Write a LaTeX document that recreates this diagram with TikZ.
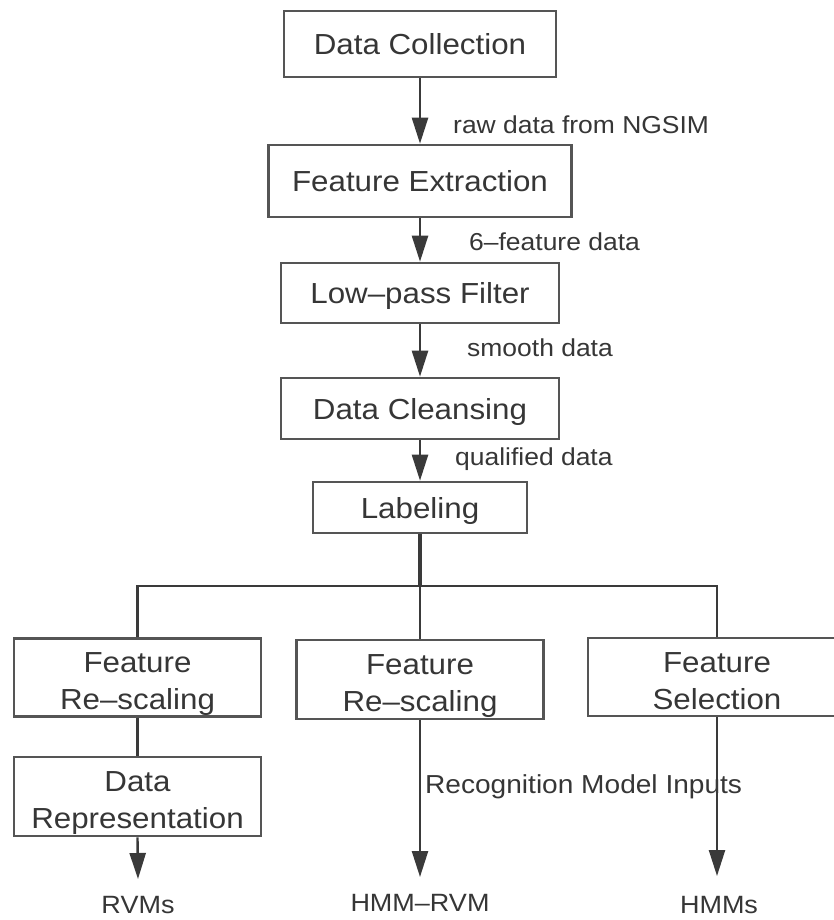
\documentclass[tikz,border=0pt]{standalone}
\usepackage{fontspec}
\setmainfont{Liberation Sans}[FakeStretch=1.08]
\usetikzlibrary{arrows.meta}
\definecolor{lncol}{HTML}{3A3A3A}
\definecolor{bxcol}{HTML}{555555}
\definecolor{txcol}{HTML}{363636}
\newcommand{\topst}{\rule{0pt}{34pt}}
\newcommand{\botst}{\rule[-7pt]{0pt}{7pt}}
\begin{document}
\begin{tikzpicture}[x=1pt,y=-1pt,
 box/.style={draw=bxcol, line width=2.6pt, rectangle, inner sep=0pt, align=center, text=txcol, font=\fontsize{29}{37}\selectfont},
 single/.style={text height=21pt, text depth=0pt},
 lab/.style={text=txcol, font=\fontsize{24.5}{30}\selectfont, inner sep=0pt, text height=17.5pt, text depth=0pt},
 arr/.style={draw=lncol, line width=2.4pt, -{Triangle[length=26pt,width=16pt]}},
 conn/.style={draw=lncol, line width=2.4pt},
]
\useasboundingbox (0,0) rectangle (834,920);
\clip (0,0) rectangle (834,920);
% top chain
\node[box,single,minimum width=272pt,minimum height=66pt] (dc) at (420,44) {Data Collection};
\node[box,single,minimum width=303pt,minimum height=72pt] (fe) at (420,181) {Feature Extraction};
\node[box,single,minimum width=278pt,minimum height=60pt] (lp) at (420,293) {Low–pass Filter};
\node[box,single,minimum width=278pt,minimum height=61pt] (cl) at (420,408.5) {Data Cleansing};
\node[box,single,minimum width=214pt,minimum height=51pt] (lb) at (420,507.5) {Labeling};
% bottom row
\node[box,minimum width=247pt,minimum height=77pt] (fr1) at (137.5,677.5) {\topst Feature\\Re–scaling\botst};
\node[box,minimum width=247pt,minimum height=79pt] (fr2) at (420,679.5) {\topst Feature\\Re–scaling\botst};
\node[box,minimum width=258pt,minimum height=76pt] (fs) at (717,677) {\topst Feature\\Selection\botst};
\node[box,minimum width=247pt,minimum height=79pt] (dr) at (137.5,796.5) {\topst Data\\Representation\botst};
% outputs
\node[lab,font=\fontsize{25}{30}\selectfont] (o1) at (138,905) {RVMs};
\node[lab,font=\fontsize{25}{30}\selectfont] (o2) at (420,903) {HMM–RVM};
\node[lab,font=\fontsize{25}{30}\selectfont] (o3) at (719,905) {HMMs};
\coordinate (t1) at (138,879);
\coordinate (t2) at (420,877);
\coordinate (t3) at (717,876);
% edge labels
\node[lab,anchor=west] (l1) at (453,125) {raw data from NGSIM};
\node[lab,anchor=west] (l2) at (469,242) {6–feature data};
\node[lab,anchor=west] (l3) at (467,348) {smooth data};
\node[lab,anchor=west] (l4) at (455,457) {qualified data};
\node[lab,anchor=west,font=\fontsize{26}{30}\selectfont] (l5) at (425,785) {Recognition Model Inputs};
% connectors
\draw[arr] (dc.south) -- (fe.north);
\draw[arr] (fe.south) -- (lp.north);
\draw[arr] (lp.south) -- (cl.north);
\draw[arr] (cl.south) -- (lb.north);
\coordinate (hub) at (420,586);
\draw[conn,line width=4pt] (lb.south) -- (hub);
\draw[conn] (fr1.north) |- (hub) -| (fs.north);
\draw[conn] (hub) -- (fr2.north);
\draw[conn] (fr1.south) -- (dr.north);
\draw[arr] (dr.south) -- (t1);
\draw[arr] (fr2.south) -- (t2);
\draw[arr] (fs.south) -- (t3);
\end{tikzpicture}
\end{document}
